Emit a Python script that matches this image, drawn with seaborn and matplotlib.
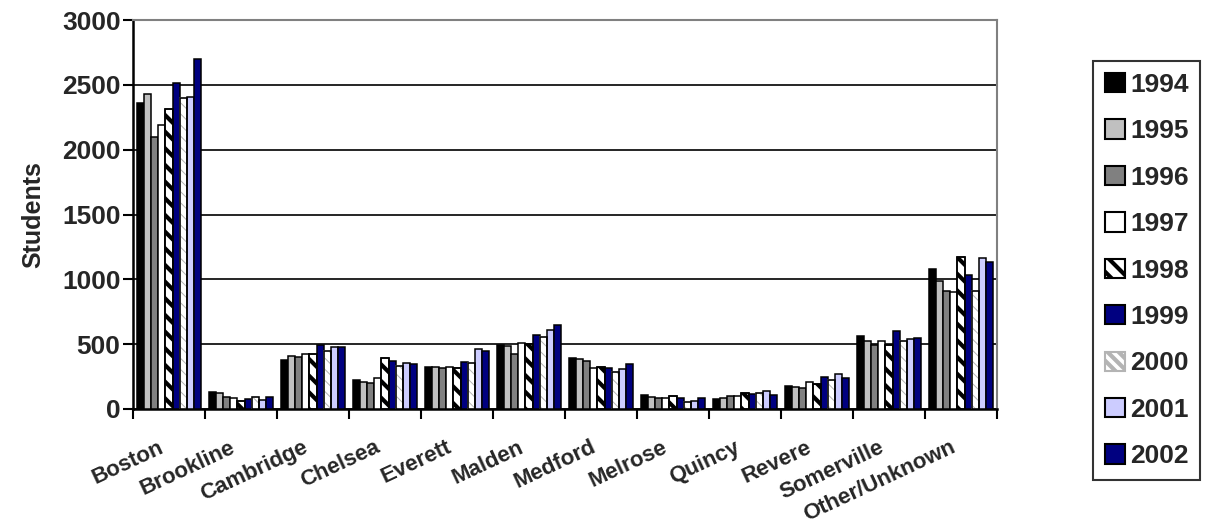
import matplotlib
matplotlib.use("Agg")
import matplotlib.pyplot as plt
import matplotlib.patches as mpatches
from matplotlib.transforms import ScaledTranslation
import numpy as np
import pandas as pd
import seaborn as sns

cities = ["Boston", "Brookline", "Cambridge", "Chelsea", "Everett", "Malden",
          "Medford", "Melrose", "Quincy", "Revere", "Somerville", "Other/Unknown"]
years = ["1994", "1995", "1996", "1997", "1998", "1999", "2000", "2001", "2002"]

y1994 = [2360, 133, 379, 224, 322, 490, 395, 108, 74, 178, 565, 1083]
y1995 = [2430, 123, 405, 211, 322, 489, 382, 93, 88, 170, 523, 987]
y1996 = [2100, 95, 399, 198, 314, 426, 372, 85, 103, 163, 495, 910]
y1997 = [2190, 82, 426, 240, 322, 508, 314, 85, 103, 206, 523, 900]
y1998 = [2310, 59, 426, 392, 314, 503, 322, 98, 121, 193, 495, 1172]
y1999 = [2516, 77, 495, 374, 366, 573, 320, 85, 113, 248, 598, 1036]
y2000 = [2396, 90, 451, 330, 356, 554, 283, 55, 121, 222, 523, 910]
y2001 = [2404, 72, 482, 356, 459, 606, 310, 64, 136, 271, 539, 1162]
y2002 = [2699, 90, 477, 348, 449, 645, 348, 88, 111, 242, 549, 1134]

series = [y1994, y1995, y1996, y1997, y1998, y1999, y2000, y2001, y2002]
face = ["#000000", "#C0C0C0", "#808080", "#FFFFFF", "#FFFFFF",
        "#000080", "#FFFFFF", "#CCCCFF", "#000080"]
hatches = [None, None, None, None, "\\\\", None, "\\\\\\", None, None]
hatch_col = [None, None, None, None, "#000000", None, "#B4B4B4", None, None]
hatch_lw = [None, None, None, None, 3.0, None, 0.7, None, None]

rows = []
for yr, vals in zip(years, series):
    for c, v in zip(cities, vals):
        rows.append({"city": c, "year": yr, "students": v})
df = pd.DataFrame(rows)

sns.set_theme(style="white")
plt.rcParams["font.family"] = ["Liberation Sans", "DejaVu Sans"]
plt.rcParams["hatch.linewidth"] = 3.0

fig = plt.figure(figsize=(12.06, 5.29), dpi=100)
ax = fig.add_axes([133 / 1206, 1 - 409 / 529, (997 - 133) / 1206, (409 - 20) / 529])

sns.barplot(data=df, x="city", y="students", hue="year", hue_order=years,
            order=cities, palette=dict(zip(years, face)), saturation=1,
            edgecolor="black", linewidth=1.1, width=0.88, gap=0,
            legend=False, ax=ax, zorder=3)


def style_patch(p, i):
    p.set_facecolor(face[i])
    if hatches[i]:
        # hatch colour follows the edge colour
        p.set_edgecolor(hatch_col[i])
        p.set_hatch(hatches[i])
        try:
            p.set_hatch_linewidth(hatch_lw[i])
        except Exception:
            pass
    else:
        p.set_edgecolor("black")


for i, cont in enumerate(ax.containers):
    for p in cont.patches:
        style_patch(p, i)
        if hatches[i]:
            ax.add_patch(mpatches.Rectangle(p.get_xy(), p.get_width(), p.get_height(),
                                            fill=False, edgecolor="black",
                                            linewidth=1.1, zorder=4))

ax.set_ylim(0, 3000)
ax.set_xlim(-0.5, len(cities) - 0.5)
ax.set_yticks([0, 500, 1000, 1500, 2000, 2500, 3000])
ax.yaxis.grid(True, color="black", linewidth=1.2, zorder=0)
ax.xaxis.grid(False)
ax.set_axisbelow(True)

for s in ["left", "bottom"]:
    ax.spines[s].set_color("black")
    ax.spines[s].set_linewidth(1.8)
for s in ["top", "right"]:
    ax.spines[s].set_color("#808080")
    ax.spines[s].set_linewidth(1.5)

ax.tick_params(axis="y", which="major", direction="out", length=7, width=1.5,
               color="black", labelsize=19, pad=2, left=True)
for lbl in ax.get_yticklabels():
    lbl.set_fontweight("bold")

ax.set_xticks(np.arange(len(cities)))
ax.set_xticklabels(cities, rotation=25, ha="right", va="top",
                   rotation_mode="anchor", fontsize=16, fontweight="bold")
ax.tick_params(axis="x", which="major", length=0, pad=20)
ax.set_xticks(np.arange(len(cities) + 1) - 0.5, minor=True)
ax.tick_params(axis="x", which="minor", direction="out", length=7, width=1.5,
               color="black", bottom=True)
off = ScaledTranslation(-11 / 100, 0, fig.dpi_scale_trans)
for lbl in ax.get_xticklabels():
    lbl.set_transform(lbl.get_transform() + off)

ax.set_xlabel("")
ax.set_ylabel("Students", fontsize=18, fontweight="bold", labelpad=12)

handles = []
for i, yr in enumerate(years):
    if hatches[i]:
        h = mpatches.Patch(facecolor=face[i], edgecolor=hatch_col[i], linewidth=1.5,
                           hatch=hatches[i], label=yr)
        try:
            h.set_hatch_linewidth(hatch_lw[i])
        except Exception:
            pass
    else:
        h = mpatches.Patch(facecolor=face[i], edgecolor="black", linewidth=1.5,
                           label=yr)
    handles.append(h)

leg = fig.legend(handles=handles, loc="upper left",
                 bbox_to_anchor=(1093 / 1206, 1 - 61 / 529),
                 bbox_transform=fig.transFigure,
                 frameon=True, fancybox=False, shadow=False,
                 prop={"size": 19, "weight": "bold"},
                 handlelength=0.75, handleheight=0.75, handletextpad=0.2,
                 labelspacing=0.85, borderpad=0.45, borderaxespad=0)
leg.get_frame().set_edgecolor("black")
leg.get_frame().set_linewidth(1.5)
leg.get_frame().set_facecolor("white")

fig.savefig("out.png", dpi=100)
